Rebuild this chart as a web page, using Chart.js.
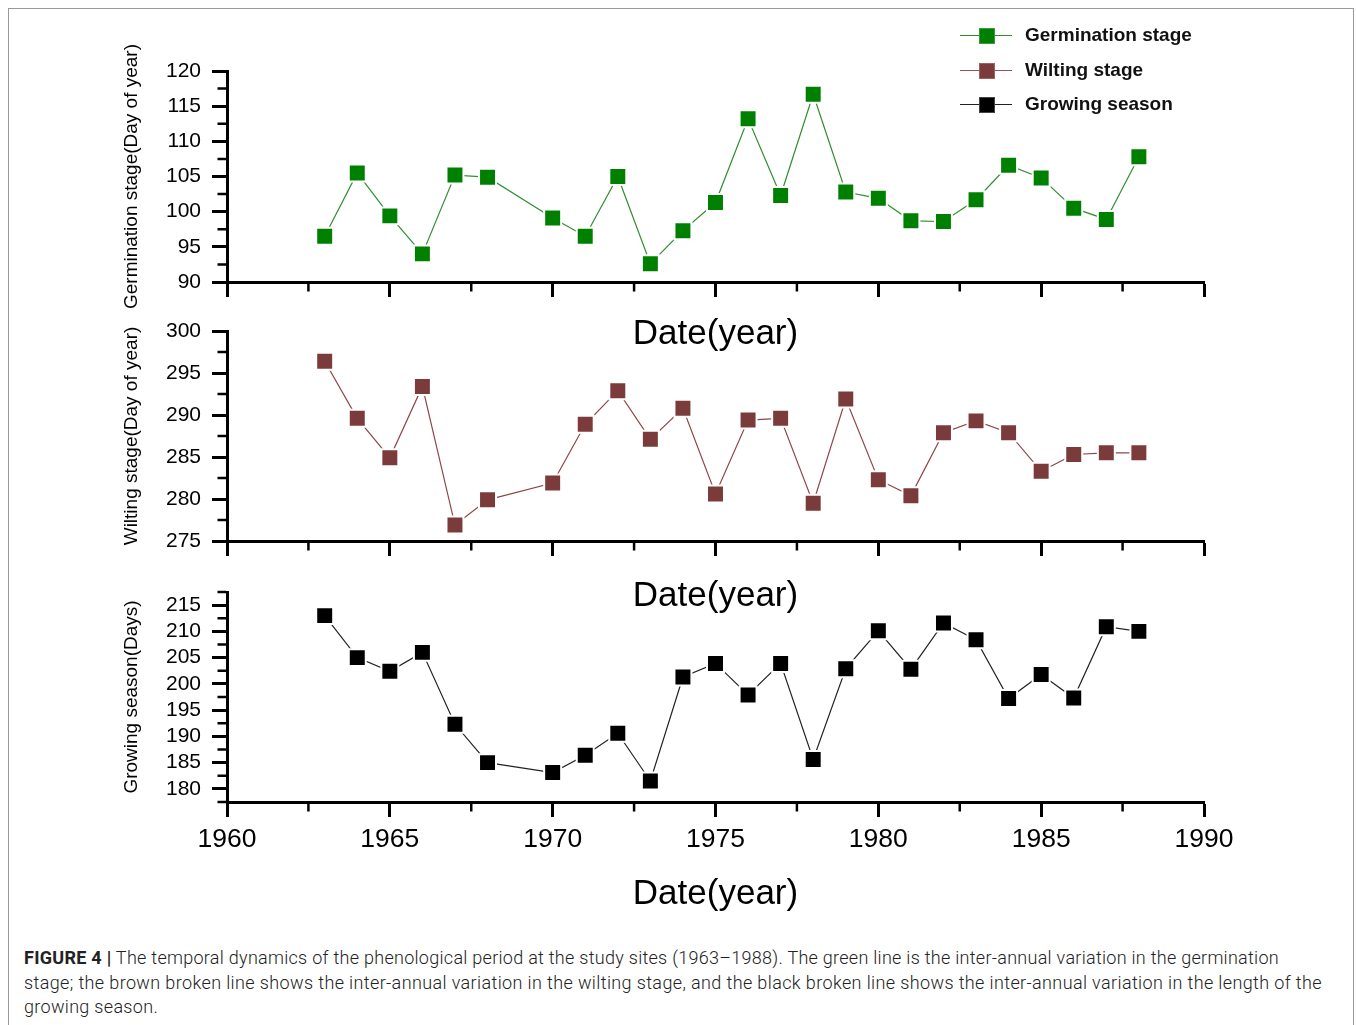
<!DOCTYPE html>
<html>
<head>
<meta charset="utf-8">
<script src="https://cdn.jsdelivr.net/npm/chart.js@4.4.1/dist/chart.umd.min.js"></script>
<style>
html,body{margin:0;padding:0;background:#fff;}
body{width:1356px;height:1025px;overflow:hidden;position:relative;font-family:'Liberation Sans',Arial,sans-serif;}
#frame{position:absolute;left:8px;top:8px;width:1346px;height:1100px;border:1px solid #9a9a9a;box-sizing:border-box;}
canvas.pc{position:absolute;left:0;}
.leg{position:absolute;left:960px;height:0;}
.leg .ln{position:absolute;left:0;top:-0.5px;width:52px;height:1px;}
.leg .sq{position:absolute;left:19px;top:-7.5px;width:14px;height:14px;border:1px solid;}
.leg .tx{position:absolute;left:65px;top:-12px;line-height:24px;font-weight:bold;font-size:19px;white-space:nowrap;color:#111;}
.cap{position:absolute;left:24px;white-space:nowrap;display:inline-block;font-family:Roboto,'Liberation Sans',sans-serif;font-weight:300;font-size:18px;line-height:25px;color:#222;}
.cap b{font-weight:700;}
</style>
</head>
<body>
<div id="frame"></div>
<canvas id="p1" class="pc" width="1356" height="355" style="top:0px"></canvas>
<canvas id="p2" class="pc" width="1356" height="317" style="top:300px"></canvas>
<canvas id="p3" class="pc" width="1356" height="355" style="top:560px"></canvas>

<div class="leg" style="top:35px"><div class="ln" style="background:#2f8f2f"></div><div class="sq" style="background:#008000;border-color:#3a9a3a"></div><div class="tx">Germination stage</div></div>
<div class="leg" style="top:70px"><div class="ln" style="background:#a05252"></div><div class="sq" style="background:#7b3b3b;border-color:#a06060"></div><div class="tx">Wilting stage</div></div>
<div class="leg" style="top:104px"><div class="ln" style="background:#222"></div><div class="sq" style="background:#000;border-color:#444"></div><div class="tx">Growing season</div></div>

<div class="cap" id="c1" style="top:945px"><b>FIGURE 4 |</b> The temporal dynamics of the phenological period at the study sites (1963–1988). The green line is the inter-annual variation in the germination</div>
<div class="cap" id="c2" style="top:970px">stage; the brown broken line shows the inter-annual variation in the wilting stage, and the black broken line shows the inter-annual variation in the length of the</div>
<div class="cap" id="c3" style="top:994px">growing season.</div>

<script>
// ---------------- data ----------------
const years = [1963,1964,1965,1966,1967,1968,1970,1971,1972,1973,1974,1975,1976,1977,1978,1979,1980,1981,1982,1983,1984,1985,1986,1987,1988];
const germination = [96.5,105.5,99.4,94.0,105.2,104.9,99.1,96.5,105.0,92.6,97.3,101.3,113.2,102.3,116.7,102.8,101.9,98.7,98.6,101.7,106.6,104.8,100.5,98.9,107.8];
const wilting = [296.4,289.6,284.9,293.4,276.9,279.9,281.9,288.9,292.9,287.1,290.8,280.6,289.4,289.6,279.5,291.9,282.3,280.4,287.9,289.3,287.9,283.3,285.3,285.5,285.5];
const growing = [213.0,205.0,202.4,206.0,192.3,185.0,183.1,186.4,190.6,181.5,201.3,203.9,197.9,203.9,185.6,202.9,210.1,202.8,211.6,208.4,197.2,201.8,197.3,210.9,210.0];

const xTicks = [1960,1965,1970,1975,1980,1985,1990];
const xMinor = [1962.5,1967.5,1972.5,1977.5,1982.5,1987.5];
const yTicks1 = [90,95,100,105,110,115,120];
const yMinor1 = [92.5,97.5,102.5,107.5,112.5,117.5];
const yTicks2 = [275,280,285,290,295,300];
const yMinor2 = [277.5,282.5,287.5,292.5,297.5];
const yTicks3 = [180,185,190,195,200,205,210,215];
const yMinor3 = [177.5,182.5,187.5,192.5,197.5,202.5,207.5,212.5,217.5];

const FAM = "'Liberation Sans', Arial, sans-serif";

const minorTicks = {
  id: 'minorTicks',
  afterDraw(chart, args, opts) {
    const ctx = chart.ctx, ca = chart.chartArea;
    const xs = chart.scales.x, ys = chart.scales.y;
    ctx.save();
    ctx.strokeStyle = '#000';
    ctx.lineWidth = 2.5;
    ctx.beginPath();
    (opts.x || []).forEach(v => {
      const p = xs.getPixelForValue(v);
      ctx.moveTo(p, ca.bottom + 1);
      ctx.lineTo(p, ca.bottom + 1.5 + 8);
    });
    (opts.y || []).forEach(v => {
      const p = ys.getPixelForValue(v);
      ctx.moveTo(ca.left - 1, p);
      ctx.lineTo(ca.left - 1.5 - 8, p);
    });
    ctx.stroke();
    ctx.restore();
  }
};

function makePanel(id, values, fill, line, yMin, yMax, yTicks, yMinor, yTitle, showXLabels, xH, padTop) {
  return new Chart(document.getElementById(id), {
    type: 'line',
    data: {
      datasets: [{
        data: years.map((y, i) => ({x: y, y: values[i]})),
        borderColor: line,
        borderWidth: 1.2,
        pointStyle: 'rect',
        pointRadius: 12,
        pointHoverRadius: 12,
        pointBackgroundColor: fill,
        pointBorderColor: '#ffffff',
        pointBorderWidth: 2,
        tension: 0,
        fill: false
      }]
    },
    options: {
      responsive: false,
      animation: false,
      events: [],
      layout: {padding: {left: 120, right: 152, top: padTop, bottom: 0}},
      plugins: {
        legend: {display: false},
        tooltip: {enabled: false},
        minorTicks: {x: xMinor, y: yMinor}
      },
      scales: {
        x: {
          type: 'linear', min: 1960, max: 1990,
          afterBuildTicks: s => { s.ticks = xTicks.map(v => ({value: v})); },
          afterFit: s => { s.height = xH; },
          ticks: {display: showXLabels, padding: 7, maxRotation: 0, autoSkip: false, color: '#000',
                  font: {size: 26.5, family: FAM}, callback: v => String(v)},
          grid: {drawOnChartArea: false, drawTicks: true, tickLength: 15, tickWidth: 3, tickColor: '#000'},
          border: {display: true, width: 3, color: '#000'},
          title: {display: true, text: 'Date(year)', color: '#000', font: {size: 35, family: FAM}, padding: {top: 0, bottom: 0}}
        },
        y: {
          type: 'linear', min: yMin, max: yMax,
          afterBuildTicks: s => { s.ticks = yTicks.map(v => ({value: v})); },
          afterFit: s => { s.width = 107; },
          ticks: {padding: 11, color: '#000', font: {size: 21, family: FAM}, callback: v => String(v)},
          grid: {drawOnChartArea: false, drawTicks: true, tickLength: 15, tickWidth: 3, tickColor: '#000'},
          border: {display: true, width: 3, color: '#000'},
          title: {display: true, text: yTitle, color: '#000', font: {size: 19, family: FAM}, padding: {top: 0, bottom: 0}}
        }
      }
    },
    plugins: [minorTicks]
  });
}

makePanel('p1', germination, '#008000', '#2f8f2f', 90, 120, yTicks1, yMinor1, 'Germination stage(Day of year)', false, 73, 71);
makePanel('p2', wilting, '#7b3b3b', '#8e4646', 275, 300, yTicks2, yMinor2, 'Wilting stage(Day of year)', false, 76, 31);
makePanel('p3', growing, '#000000', '#222222', 177.5, 217.5, yTicks3, yMinor3, 'Growing season(Days)', true, 113, 32);

function fitLine(id, target) {
  const el = document.getElementById(id);
  el.style.letterSpacing = '0px';
  const w = el.getBoundingClientRect().width;
  const n = el.textContent.length;
  el.style.letterSpacing = ((target - w) / n) + 'px';
}
fitLine('c1', 1255);
fitLine('c2', 1298);
fitLine('c3', 134);
</script>
</body>
</html>
